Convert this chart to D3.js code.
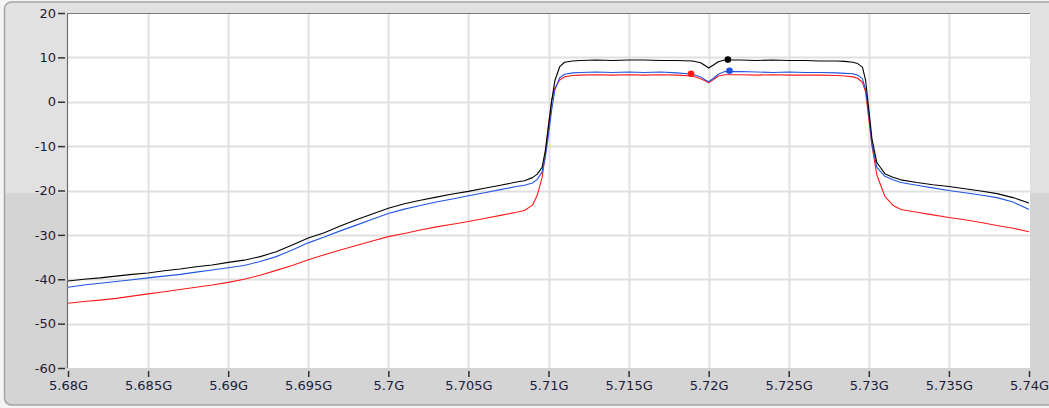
<!DOCTYPE html>
<html>
<head>
<meta charset="utf-8">
<script src="https://cdn.jsdelivr.net/npm/d3@7"></script>
<style>
  html, body { margin: 0; padding: 0; background: #f4f4f4; }
  svg { display: block; }
</style>
</head>
<body>
<svg id="chart" width="1049" height="408"></svg>
<script>
// ---- data (frequency in GHz, level in dB) ----
const freqs = [5.680,5.681,5.682,5.683,5.684,5.685,5.686,5.687,5.688,5.689,5.690,5.691,5.692,5.693,5.694,5.695,5.696,5.697,5.698,5.699,5.700,5.701,5.702,5.703,5.704,5.705,5.706,5.707,5.708,5.7085,5.709,5.7093,5.7096,5.7098,5.7100,5.7102,5.7104,5.7107,5.7110,5.7115,5.712,5.713,5.714,5.715,5.716,5.717,5.718,5.719,5.7195,5.7198,5.7200,5.7203,5.7206,5.721,5.722,5.723,5.724,5.725,5.726,5.727,5.728,5.7285,5.7290,5.7293,5.7296,5.7298,5.7300,5.7302,5.7305,5.7310,5.7315,5.732,5.733,5.734,5.735,5.736,5.737,5.738,5.739,5.740];

const blackTrace = [-40.4,-40.0,-39.7,-39.3,-38.9,-38.6,-38.1,-37.7,-37.2,-36.8,-36.2,-35.7,-34.9,-33.8,-32.3,-30.7,-29.5,-28.0,-26.6,-25.3,-24.0,-23.0,-22.2,-21.5,-20.8,-20.2,-19.5,-18.8,-18.1,-17.8,-17.1,-16.3,-14.8,-11.0,-5.5,0.2,4.8,7.9,8.9,9.2,9.3,9.4,9.3,9.4,9.4,9.3,9.3,9.2,8.8,8.1,7.6,8.3,9.0,9.4,9.4,9.3,9.4,9.3,9.3,9.2,9.2,9.1,8.9,8.6,7.8,4.8,-1.8,-8.5,-13.7,-16.2,-17.0,-17.6,-18.2,-18.7,-19.1,-19.6,-20.1,-20.7,-21.6,-22.8];

const blueTrace = [-41.8,-41.3,-40.9,-40.5,-40.1,-39.7,-39.3,-38.9,-38.4,-37.9,-37.4,-36.9,-36.0,-34.9,-33.4,-31.8,-30.5,-29.1,-27.8,-26.5,-25.2,-24.2,-23.4,-22.6,-21.9,-21.2,-20.5,-19.8,-19.1,-18.8,-18.3,-17.5,-15.8,-12.6,-7.4,-1.8,2.7,5.4,6.2,6.5,6.6,6.7,6.6,6.7,6.6,6.7,6.5,6.2,5.6,4.9,4.5,5.3,6.2,6.8,6.8,6.7,6.6,6.7,6.6,6.6,6.5,6.4,6.3,6.0,5.2,2.7,-2.9,-9.7,-14.8,-16.8,-17.6,-18.2,-18.8,-19.4,-20.0,-20.5,-21.0,-21.6,-22.6,-24.3];

const redTrace = [-45.4,-45.0,-44.7,-44.3,-43.8,-43.3,-42.8,-42.3,-41.8,-41.3,-40.7,-40.0,-39.1,-38.0,-36.9,-35.6,-34.5,-33.4,-32.4,-31.4,-30.4,-29.7,-28.9,-28.2,-27.6,-27.0,-26.3,-25.6,-24.9,-24.5,-23.3,-21.0,-17.1,-12.0,-5.2,0.4,3.1,4.9,5.6,5.9,6.0,6.1,6.0,6.1,6.0,6.1,6.0,5.8,5.2,4.7,4.3,5.0,5.8,6.1,6.1,6.0,6.1,6.0,6.0,6.0,5.9,5.8,5.6,5.3,4.4,2.2,-4.0,-10.0,-16.5,-21.3,-23.3,-24.3,-24.9,-25.5,-26.1,-26.6,-27.2,-27.9,-28.5,-29.3];

const seriesNames = ["red", "blue", "black"];
const seriesColors = ["#ff1a1a", "#2255e6", "#000000"];

const markerFreqs = [5.7189, 5.7213, 5.7212];
const markerLevels = [6.3, 7.0, 9.5];
const markerColors = ["#ff1a1a", "#1f4fe0", "#000000"];

const xTickValues = [5.680,5.685,5.690,5.695,5.700,5.705,5.710,5.715,5.720,5.725,5.730,5.735,5.740];
const xTickLabels = ["5.68G","5.685G","5.69G","5.695G","5.7G","5.705G","5.71G","5.715G","5.72G","5.725G","5.73G","5.735G","5.74G"];
const yTickValues = [20,10,0,-10,-20,-30,-40,-50,-60];
const yTickLabels = ["20","10","0","-10","-20","-30","-40","-50","-60"];

// ---- drawing ----
const svg = d3.select("#chart");
const W = 1049, H = 408;
const plot = {left: 67, top: 13, right: 1030, bottom: 368};

// panel background (two-tone, rounded)
const defs = svg.append("defs");
const clipP = defs.append("clipPath").attr("id", "panelClip");
clipP.append("rect").attr("x", 4).attr("y", 2).attr("width", 1100).attr("height", 403).attr("rx", 7);
const panel = svg.append("g").attr("clip-path", "url(#panelClip)");
panel.append("rect").attr("x", 0).attr("y", 0).attr("width", W + 60).attr("height", 193).attr("fill", "#e1e1e1");
panel.append("rect").attr("x", 0).attr("y", 193).attr("width", W + 60).attr("height", H).attr("fill", "#d4d4d4");
svg.append("rect").attr("x", 4.5).attr("y", 2).attr("width", 1100).attr("height", 403).attr("rx", 7)
  .attr("fill", "none").attr("stroke", "#a4a4a4").attr("stroke-width", 1.5);

// plot area
svg.append("rect").attr("x", plot.left).attr("y", plot.top)
  .attr("width", plot.right - plot.left).attr("height", plot.bottom - plot.top)
  .attr("fill", "#ffffff");

const x = d3.scaleLinear().domain([5.68, 5.74]).range([68, 1029]);
const y = d3.scaleLinear().domain([-60, 20]).range([368, 13]);

// grid
const grid = svg.append("g");
grid.selectAll("line.vg").data(xTickValues.slice(1, -1)).join("line")
  .attr("x1", d => Math.round(x(d)) + 0.5).attr("x2", d => Math.round(x(d)) + 0.5)
  .attr("y1", plot.top).attr("y2", plot.bottom)
  .attr("stroke", "#e0e0e0").attr("stroke-width", 2);
grid.selectAll("line.hg").data(yTickValues.slice(1, -1)).join("line")
  .attr("x1", plot.left).attr("x2", plot.right)
  .attr("y1", d => Math.round(y(d)) + 0.5).attr("y2", d => Math.round(y(d)) + 0.5)
  .attr("stroke", "#e0e0e0").attr("stroke-width", 2);

// plot border (inset look)
svg.append("line").attr("x1", plot.left + 0.5).attr("x2", plot.left + 0.5)
  .attr("y1", plot.top).attr("y2", plot.bottom).attr("stroke", "#6e6e6e").attr("stroke-width", 1.2);
svg.append("line").attr("x1", plot.left).attr("x2", plot.right)
  .attr("y1", plot.top + 0.5).attr("y2", plot.top + 0.5).attr("stroke", "#7a7a7a").attr("stroke-width", 1.2);

// traces
const allTraces = [redTrace, blueTrace, blackTrace];
const line = d3.line().x((d, i) => x(freqs[i])).y(d => y(d));
svg.append("g").selectAll("path.trace")
  .data(allTraces).join("path")
  .attr("class", (d, i) => "trace " + seriesNames[i])
  .attr("d", d => line(d))
  .attr("fill", "none")
  .attr("stroke", (d, i) => seriesColors[i])
  .attr("stroke-width", 1.1)
  .attr("stroke-linejoin", "round");

// markers
svg.append("g").selectAll("circle")
  .data(markerFreqs).join("circle")
  .attr("cx", (d) => x(d)).attr("cy", (d, i) => y(markerLevels[i]))
  .attr("r", 3.3).attr("fill", (d, i) => markerColors[i]);

// axes
const font = "'DejaVu Sans', Verdana, sans-serif";
const yAxis = d3.axisLeft(y).tickValues(yTickValues)
  .tickFormat((d, i) => yTickLabels[i]).tickSize(7).tickPadding(2);
const gy = svg.append("g").attr("transform", `translate(${plot.left - 2},0)`).call(yAxis);
gy.select(".domain").remove();
gy.selectAll(".tick line").attr("stroke", "#303030").attr("stroke-width", 1.5);
gy.selectAll(".tick text").attr("fill", "#1c1c3a").style("font-family", font).style("font-size", "13px");

const xAxis = d3.axisBottom(x).tickValues(xTickValues)
  .tickFormat((d, i) => xTickLabels[i]).tickSize(6).tickPadding(4);
const gx = svg.append("g").attr("transform", `translate(0,${plot.bottom + 3})`).call(xAxis);
gx.select(".domain").remove();
gx.selectAll(".tick line").attr("stroke", "#303030").attr("stroke-width", 1.5);
gx.selectAll(".tick text").attr("fill", "#1c1c3a").style("font-family", font).style("font-size", "13px");
</script>
</body>
</html>
